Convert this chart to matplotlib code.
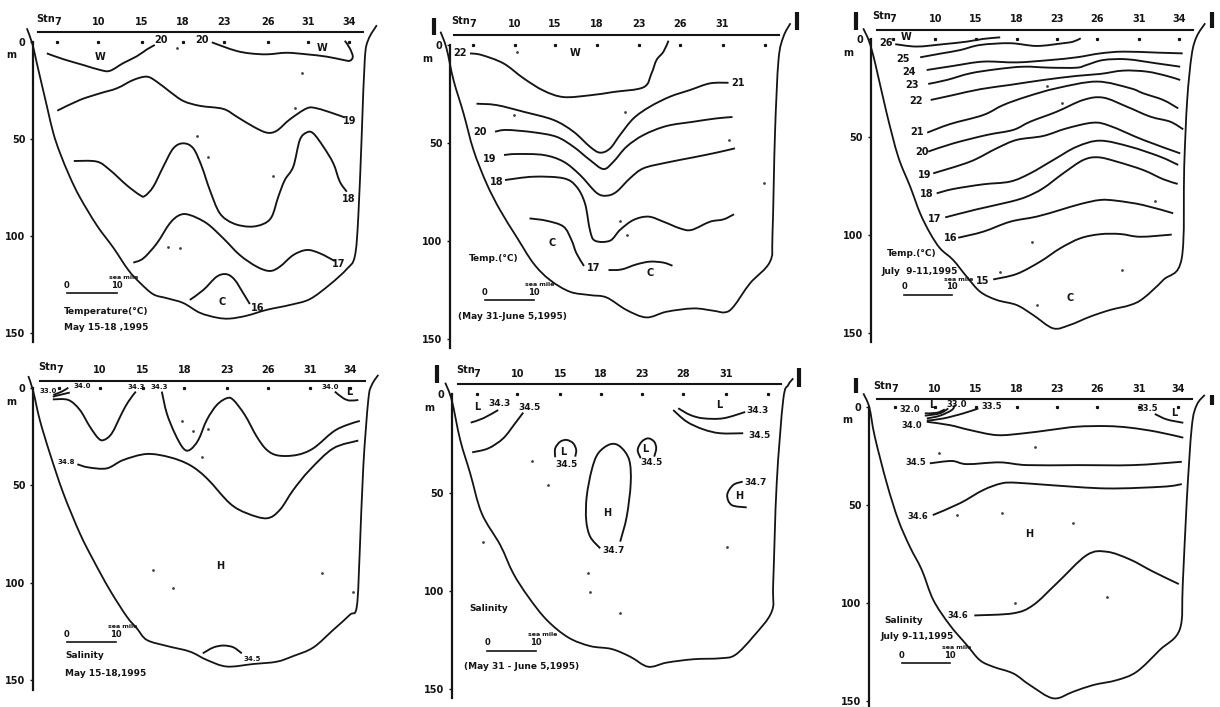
import matplotlib
matplotlib.use("Agg")
import matplotlib.pyplot as plt
from matplotlib.patches import PathPatch
from matplotlib.path import Path

W, H = 1220, 707
INK = "#141414"

# x is sea miles from the depth axis, d is depth in metres
# ---------- May 15-18 temperature
a_stations = [4.8, 13, 21.7, 29.9, 38.1, 46.9, 55, 63.1]
a_names = ["7", "10", "15", "18", "23", "26", "31", "34"]
a_bottom_x = [-1.3, -0.2, 0.7, 2.7, 4, 5.3, 7.3, 9.3, 12.7, 16, 19, 21.3, 24, 26.7, 30, 33.3, 36.7, 39.3, 42.7, 46.7, 51.3, 55.3, 59.3, 62.7, 64.3, 65, 65.7, 66.3, 67, 68.7]
a_bottom_d = [-6.9, 1, 11, 33, 47, 57, 69.5, 80, 94.5, 106, 117.5, 124, 130, 132, 134.5, 139.5, 142, 142.5, 141, 138, 135.5, 132.5, 125, 117, 110.5, 90, 47, 9, -1, -8.5]
a_lines = [
    ([2.7, 6, 10, 13.3, 15.3, 18, 20.7, 22.7, 24.3], [6, 9, 12, 14.5, 15, 11, 7.5, 4, 1.7]),
    ([35.7, 38, 40.7, 43.3, 46.7, 50.7, 54.7, 58.7, 62, 63.3, 63.9, 63.3, 62.3], [0.3, 2.5, 4.8, 6, 6.5, 5.7, 6.5, 7.7, 9.4, 9.8, 7.7, 3.4, -0.5]),
    ([4.8, 9.3, 13.3, 16.7, 20, 22.7, 24.7, 27.3, 30, 33.3, 38, 40.7, 44, 46.7, 48.7, 51.3, 54.7, 56.7, 60, 62.3], [35.5, 30, 26.6, 24, 19.7, 18, 20.6, 25.7, 30.5, 33, 34.6, 38.6, 43.7, 46.8, 45.8, 40, 34.3, 34.3, 36.9, 39]),
    ([8.1, 12.7, 15.3, 18.7, 21.3, 22.3, 24, 26, 28, 30, 32, 33.7, 35.3, 37.3, 40, 43.3, 46, 47.7, 49, 50.3, 52, 53.3, 54.7, 56, 58, 60, 61.3, 62.7], [61.4, 61.7, 66, 73.9, 78.9, 79.4, 74.6, 64.3, 54.9, 52.3, 54.9, 64.3, 76.3, 88.3, 93.5, 95.2, 93.8, 90, 79.8, 71.2, 64.3, 50.6, 46.7, 47.2, 54, 62.6, 72, 77.2]),
    ([20, 22, 24.7, 27.3, 29.3, 31.3, 34.7, 38, 41.3, 44.7, 47.3, 49.3, 52, 54.7, 57.3, 60.3], [113.7, 111.5, 103.8, 93.5, 89.2, 89.2, 93.5, 101.2, 109.8, 115.8, 118, 115.8, 109.8, 107.2, 108.9, 112.9]),
    ([31.3, 34, 36.7, 38.7, 40.3, 42, 43.3], [132.9, 127.8, 120.9, 119.7, 122.6, 129.5, 135]),
]
a_labels = [(13.3, 7.7, "W"), (57.7, 3, "W"), (37.7, 134, "C"), (25.5, -1, "20"), (33.7, -1, "20"), (63.3, 40.7, "19"), (63, 81, "18"), (61.1, 114.4, "17"), (44.8, 137, "16")]
a_notes = [(6.1, 139, "Temperature(°C)"), (6.2, 147, "May 15-18 ,1995")]
a_specks = [(28.7, 3.4), (35.3, -6.9), (53.7, 16), (52.3, 34), (47.9, 69), (35, 59.5), (27, 105.5), (29.3, 106.4), (32.7, 48.5)]

# ---------- May 31-June 5 temperature
b_stations = [4.5, 12.9, 21, 29.3, 37.7, 45.9, 54.5, 63]
b_names = ["7", "10", "15", "18", "23", "26", "31", ""]
b_bottom_x = [-1.9, -0.7, 0.7, 2.7, 4.7, 7.3, 10, 13.3, 16.7, 20, 24, 28, 31.3, 35.3, 39.3, 43.3, 48.7, 52.7, 55, 56.7, 60, 64, 64.5, 65, 65.7, 66.7, 68.1]
b_bottom_d = [-6.8, 1.7, 17.9, 34.9, 53.7, 70.7, 84.3, 98, 111.6, 120.1, 126.1, 127.8, 129, 135.4, 139.2, 136.3, 134.6, 135.8, 136.6, 133.7, 121.8, 110.7, 96.3, 45.1, 7.7, -4.3, -11.1]
b_lines = [
    ([4, 6.3, 10.7, 14.7, 18.7, 22.7, 28, 32.7, 38.7, 40.3, 41.3, 42.7, 43.7], [4.3, 5.1, 9.4, 17, 23.3, 26.6, 25.7, 24, 21.6, 14.5, 7.7, 3.4, -2.2]),
    ([5.3, 9.3, 14.7, 20.7, 24.7, 28, 30, 32, 34, 36.7, 40, 44, 48, 52, 55.7], [30, 30.7, 34.1, 38.3, 44.3, 52, 55, 52.9, 46, 37.5, 31.5, 26.4, 23, 19.6, 19.3]),
    ([9, 11.3, 16.7, 21.3, 24.7, 28, 30.7, 32.7, 35.3, 38.7, 43.3, 48.7, 53.3, 56.5], [44.3, 43.4, 44.6, 46.9, 52, 58.8, 63.4, 59.6, 52, 46, 41.4, 39.2, 37.5, 36.8]),
    ([10.8, 13.3, 18.7, 22.7, 26, 29.3, 31.3, 33.3, 36, 38.7, 43.3, 48.7, 53.3, 57], [56.2, 55.7, 56.2, 59.6, 66.4, 75.5, 77, 75, 68.1, 63, 60.1, 57.4, 55, 52.8]),
    ([11, 16.7, 22.7, 25.3, 27, 28, 29, 32, 34, 36.7, 39.7, 42.7, 46, 48.3, 52, 54.7, 56.8], [69, 67.3, 68.1, 72.4, 81, 94.7, 100, 100, 94.5, 89.4, 87.7, 90.3, 93.7, 94.5, 90.3, 89.1, 86.5]),
    ([15.9, 19.3, 22.7, 24.3, 25.3, 26.8], [88.6, 89.8, 92.8, 99.7, 106.5, 112.9]),
    ([31.7, 34.3, 37.3, 40, 42.7, 44.5], [115, 114.7, 112.1, 110.7, 111.2, 112.8]),
]
b_labels = [(25.1, 4.3, "W"), (2, 4.3, "22"), (57.5, 19.6, "21"), (6, 44.6, "20"), (7.9, 58.3, "19"), (9.3, 70.2, "18"), (20.5, 101.4, "C"), (28.8, 114, "17"), (40, 116.7, "C")]
b_notes = [(3.7, 109, "Temp.(°C)"), (1.5, 138.5, "(May 31-June 5,1995)")]
b_specks = [(13.3, 3.4), (34, 90), (35.3, 97), (62.7, 70.7), (55.7, 48.6), (12.7, 35.8), (35, 34)]

# ---------- July 9-11 temperature
c_stations = [4.5, 12.9, 21, 29.2, 37.2, 45.3, 53.7, 61.7]
c_names = ["7", "10", "15", "18", "23", "26", "31", "34"]
c_bottom_x = [-1.5, -0.3, 0.9, 3.2, 5.5, 7.9, 9.9, 11.9, 13.9, 16.5, 19.2, 21.9, 25.2, 29.2, 32.5, 36.5, 39.8, 43.9, 47.9, 51.9, 54.5, 58.5, 62.2, 62.7, 63.3, 64.2, 65.2, 66.9]
c_bottom_d = [-5.6, 1.2, 12.3, 37.8, 60, 75.3, 89, 99.2, 106.9, 112.8, 121.3, 129, 133.2, 135.8, 140.9, 147.7, 146, 141.7, 138.3, 135.8, 132.4, 123, 112, 65.1, 31, 8, -1.4, -8.2]
c_lines = [
    ([4.9, 9.2, 14.5, 19.2, 22.5, 25.9], [2.5, 3.7, 2.5, 1.2, -0.2, -1]),
    ([9.9, 14.2, 17.9, 21.9, 27.9, 33.2, 38.5, 40.5, 42], [9.2, 7.2, 5.5, 2.9, 2, 3.4, 2, 1.2, -0.5]),
    ([11.2, 16.5, 22.5, 29.2, 35.9, 41.2, 45.9, 50.5, 57.2, 62.4], [15.7, 13.6, 11.4, 11.8, 10.6, 9.2, 7.2, 6.3, 6.8, 7.2]),
    ([11.5, 15.2, 19.9, 25.2, 30.5, 35.9, 41.2, 43.2, 46.5, 51.2, 57.2, 61.9], [22.8, 20.8, 17.4, 15.3, 14, 14.5, 14.5, 13.1, 10.6, 10.2, 12.3, 14]),
    ([12, 16.5, 21.9, 27.9, 34.5, 41.2, 45.9, 50.5, 55.2, 59.2, 61.9], [31, 28.5, 25.5, 23.3, 20.8, 18.7, 17.7, 16, 16.5, 18.7, 20.8]),
    ([11.3, 15.9, 22.5, 26.5, 31.2, 37.2, 45.2, 51.9, 54.5, 58.5, 61.5], [47.7, 43.3, 38.7, 33.6, 29.3, 25, 21.6, 25, 27.6, 31, 35.3]),
    ([11.5, 16.5, 23.2, 28.5, 31.9, 37.2, 42.5, 46.5, 51.2, 55.9, 59.9, 62.5], [57.4, 53.2, 48.9, 46.3, 42.1, 37, 31, 29.8, 34.4, 39.5, 42.1, 46]),
    ([12.5, 19.9, 25.2, 29.2, 34.5, 39.2, 44.5, 47.9, 54.5, 61.9], [68.5, 62.5, 55.7, 51.4, 49.4, 45.5, 42.6, 44.3, 51.4, 58.3]),
    ([13.2, 16.5, 22.5, 27.9, 31.9, 36.5, 41.2, 45.9, 51.9, 57.9, 61.5], [78.7, 76.5, 74.1, 72.7, 68.5, 61.7, 54.9, 51.8, 54.9, 60, 64.2]),
    ([14.9, 21.2, 27.9, 31.2, 34.5, 38.5, 42.5, 45.5, 49.2, 54.5, 58.5, 61.4], [91, 86.9, 83, 80.4, 76.1, 68.5, 61.7, 60.3, 62.5, 66.8, 71.5, 73.9]),
    ([17.5, 22.5, 27.9, 33.2, 37.9, 41.9, 45.9, 49.2, 54.5, 60.5], [101.4, 98.3, 93.2, 90.6, 87.2, 84.2, 82.1, 82.5, 84.7, 88.9]),
    ([24.5, 29.2, 33.9, 37.9, 41.9, 45.9, 49.9, 53.9, 60.2], [122.7, 119.9, 113.6, 106.8, 101.7, 99.6, 99.5, 100.9, 99.8]),
]
c_labels = [(7.1, -1, "W"), (3.1, 2, "26"), (6.4, 10.2, "25"), (7.7, 16.9, "24"), (8.2, 23.3, "23"), (9.1, 31.5, "22"), (9.3, 47.5, "21"), (10.2, 57.4, "20"), (10.7, 69.3, "19"), (11.3, 79, "18"), (12.7, 91.8, "17"), (15.9, 101.7, "16"), (22.4, 123.5, "15"), (39.9, 132, "C")]
c_notes = [(3.3, 109.4, "Temp.(°C)"), (2.2, 118.7, "July  9-11,1995")]
c_specks = [(38.2, 32.4), (35.2, 23.9), (56.9, 82.6), (50.2, 117.9), (32.2, 103.4), (25.9, 118.7), (33.2, 135.8)]

# ---------- May 15-18 salinity
d_stations = [5.2, 13.3, 21.9, 30.2, 38.8, 47, 55.3, 63.3]
d_names = ["7", "10", "15", "18", "23", "26", "31", "34"]
d_bottom_x = [-1, 0, 1.3, 3.3, 6, 9.3, 12, 15.3, 18.7, 20.7, 22.7, 26.7, 31.3, 34.7, 38.7, 44, 48.7, 52, 56, 60, 63.3, 64.7, 65.3, 66, 67, 67.7, 69]
d_bottom_d = [-6.3, 1.7, 16.3, 33.4, 54, 74.6, 88.4, 103.8, 117.5, 123.5, 129.5, 132.6, 135.5, 139.8, 143.2, 141.9, 140.7, 137.8, 133.4, 124.3, 116.6, 112.3, 83.2, 40.3, 6, -1.7, -6.9]
d_lines = [
    ([4, 5.7, 7], [3.4, 1.7, -0.3]),
    ([3.9, 5.3, 7.3], [4.3, 3.4, 2.2]),
    ([3.9, 7, 9.3, 11.3, 13, 14.1, 15.7, 17.7, 19, 20.5], [5.7, 6, 11.1, 19.7, 25.7, 26.6, 23.2, 12.9, 6.9, 1.7]),
    ([25.7, 26.7, 28.3, 30, 31.3, 33, 34.7, 36.7, 38.7, 40, 42.3, 44.7, 46.7, 49, 52.7, 56, 60, 62.7, 65.3], [1.7, 12.9, 23.2, 30.9, 31.7, 26.6, 16.3, 8.6, 5.1, 6, 13.7, 24.9, 31.7, 34.6, 34.3, 30.9, 22.3, 18.9, 16.8]),
    ([8.8, 11, 14.7, 18, 22.7, 27.3, 31.3, 34.7, 39.3, 42.7, 46.7, 49.3, 52, 55.3, 60, 65], [39.1, 40.7, 41.2, 36.9, 33.8, 35.5, 39.5, 46.3, 59.2, 64.3, 66.9, 62.6, 52.3, 42, 30.9, 26.9]),
    ([60.3, 62, 63.3, 65], [1.7, 5.1, 6.3, 6]),
    ([33.9, 36, 38, 40, 41.7], [136.4, 133.4, 132.4, 133.3, 136.4]),
]
d_labels = [(3, 1.4, "33.0"), (9.8, -1.4, "34.0"), (20.5, -0.9, "34.3"), (25.2, -0.9, "34.3"), (59.3, -0.5, "34.0"), (63.2, 2, "L"), (6.5, 37.7, "34.8"), (37.3, 91.3, "H"), (43.7, 139.3, "34.5")]
d_notes = [(6.5, 137.7, "Salinity"), (6.3, 147, "May 15-18,1995")]
d_specks = [(32, 22), (35, 21), (33.7, 35.5), (29.7, 16.6), (24, 93.5), (28, 102.9), (57.7, 94.9), (64, 104.6)]

# ---------- May 31-June 5 salinity
e_stations = [5.1, 13.1, 21.7, 29.9, 38.1, 46.3, 54.8, 63.3]
e_names = ["7", "10", "15", "18", "23", "28", "31", ""]
e_bottom_x = [-1.3, 0, 1.7, 3.7, 6, 9.7, 12.3, 15.3, 19, 23.3, 27.7, 32, 35.7, 39.3, 43, 48.3, 53.7, 56.7, 60.3, 64, 64.3, 65, 66.3, 67.3, 68.3]
e_bottom_d = [-5.9, 2.9, 23.2, 40.2, 60.5, 76.6, 91, 102.9, 114.7, 123.6, 128, 129.5, 133.4, 138.5, 136.4, 134.7, 134.2, 132.5, 123.2, 110.5, 96.1, 45.3, 2.9, -4.7, -8.1]
e_lines = [
    ([3.8, 6.3, 9.3], [14.4, 12.2, 8]),
    ([4.1, 7.3, 10.3, 12.7, 14.3], [29.5, 27.5, 22.4, 14.7, 9.3]),
    ([20.7, 20.7, 21.7, 23, 24.3, 24.9, 24.7], [32, 27.5, 24.1, 23.2, 24.9, 28.3, 31.7]),
    ([37.8, 37.2, 38, 39.3, 40.5, 40.9, 40.5], [32.5, 28.3, 24.1, 22.4, 24.1, 27.5, 31.7]),
    ([29.7, 27.7, 26.9, 27, 28, 29.3, 31.7, 33.7, 35.5, 35.8, 35, 33.7], [78.3, 72.4, 63.9, 52, 38.5, 30, 25.4, 26.6, 33.4, 45.3, 62.2, 74.9]),
    ([45.3, 47.7, 50.3, 54.3, 58.7], [7.1, 10.5, 12.2, 12.2, 9]),
    ([44.3, 47, 50.3, 53.7, 58.3], [8, 13.9, 17.8, 19.8, 19.8]),
    ([58.2, 56.3, 55.1, 56, 59], [44.4, 46.1, 51.2, 56.3, 57.5]),
]
e_labels = [(5.1, 6.6, "L"), (9.5, 4.6, "34.3"), (15.5, 6.6, "34.5"), (22.3, 29.2, "L"), (22.9, 35.9, "34.5"), (31.1, 60.2, "H"), (32.3, 79.2, "34.7"), (38.8, 28, "L"), (40, 34.6, "34.5"), (53.5, 5.4, "L"), (61.2, 8, "34.3"), (61.5, 20.7, "34.5"), (60.7, 44.9, "34.7"), (57.5, 51.5, "H")]
e_notes = [(3.5, 108.8, "Salinity"), (2.5, 138.5, "(May 31 - June 5,1995)")]
e_specks = [(6.3, 74.9), (16, 33.7), (19.3, 46.1), (27.3, 90.7), (27.7, 100.3), (55, 77.5), (33.7, 111.4)]

# ---------- July 9-11 salinity
f_stations = [5.1, 13.1, 21.3, 29.5, 37.5, 45.6, 53.9, 61.7]
f_names = ["7", "10", "15", "18", "23", "26", "31", "34"]
f_bottom_x = [-1.2, 0, 1.1, 3.5, 5.8, 8.1, 10.5, 12.8, 16.1, 19.5, 22.1, 24.8, 28.8, 32.1, 36.8, 40.8, 44.8, 49.5, 53.5, 58.1, 62.1, 62.7, 63.5, 64.5, 65.5, 67.1]
f_bottom_d = [-6.8, 0.3, 15.3, 39.1, 57.8, 71.4, 83.3, 98.6, 111.4, 121.6, 129.3, 132.7, 136.1, 142, 148.8, 145.4, 142, 139.5, 135.2, 124.1, 113.6, 90.1, 47.6, 10.2, -0.9, -6]
f_lines = [
    ([11.5, 16.1, 20.1, 25.5, 30.8, 36.1, 41.5, 47.5, 52.1, 57.5, 62.8], [7.7, 9.4, 11.9, 14.5, 13.6, 11.9, 10.2, 9.9, 10.7, 12.8, 15.8]),
    ([11.5, 14.8, 18.8, 21.8], [7.1, 6, 3.4, 0.9]),
    ([11.5, 14.1, 16.5, 17.1], [6, 4.6, 1.7, -0.9]),
    ([11.1, 13.5, 15.1], [3.4, 3.1, 1.4]),
    ([11.1, 14.1, 15.8], [4.6, 3.4, 0.9]),
    ([57.1, 59.5, 62.8], [3.7, 6.5, 8.2]),
    ([12.1, 16.5, 19.5, 26.1, 31.5, 41.5, 52.8, 62.5], [28.9, 27.7, 29.3, 28.4, 29.8, 29.8, 29.8, 28.1]),
    ([12.7, 18.1, 22.8, 26.5, 29.5, 36.1, 47.5, 58.8, 62.5], [55.3, 49.3, 42.5, 39.1, 38.8, 40, 41.7, 40.8, 39.5]),
    ([21, 28.8, 32.8, 37.5, 43.5, 47.5, 52.1, 56.8, 61.9], [106.5, 105.4, 101.2, 90.1, 75.7, 74, 77.9, 84.2, 90.5]),
]
f_labels = [(8.1, 1.4, "32.0"), (12.5, -0.9, "L"), (17.5, -0.9, "33.0"), (24.5, -0.3, "33.5"), (55.7, 0.9, "33.5"), (61, 3, "L"), (8.5, 9.7, "34.0"), (9.3, 28.4, "34.5"), (9.8, 55.8, "34.6"), (31.9, 65, "H"), (17.8, 106.6, "34.6")]
f_notes = [(3, 109.2, "Salinity"), (2.3, 117.3, "July 9-11,1995")]
f_specks = [(14, 23.8), (17.5, 55.3), (26.5, 54.4), (40.8, 59.2), (47.5, 97.3), (29.1, 100.3), (33.1, 20.4)]

depth_ticks = [0, 50, 100, 150]
# left px, px of depth 0, px per metre, depth of station line, axis end, station line span,
# scale bar (start, end, depth), edge marks (x, top, bottom), then data, then label size
panels = [
    (33.3, 41.7, 1.943, -4.8, 154.4, (1, 65.9), (6.7, 16.7, 129.5), [], a_stations, a_names, a_bottom_x, a_bottom_d, a_lines, a_labels, a_notes, a_specks, 6.5),
    (450, 45, 1.957, -5.1, 155, (0.7, 65.7), (7, 16.7, 130.3), [(-3.3, -14, -5), (69.4, -17, -7.5)], b_stations, b_names, b_bottom_x, b_bottom_d, b_lines, b_labels, b_notes, b_specks, 6.5),
    (870.7, 39.3, 1.957, -4.8, 154.9, (1.2, 64.4), (6.7, 16.2, 130.5), [(-3, -14, -5), (68.2, -14, -5.7)], c_stations, c_names, c_bottom_x, c_bottom_d, c_lines, c_labels, c_notes, c_specks, 6.5),
    (33.3, 388.3, 1.943, -3.8, 155.2, (1.3, 66.3), (6.7, 16.5, 130.7), [], d_stations, d_names, d_bottom_x, d_bottom_d, d_lines, d_labels, d_notes, d_specks, 5),
    (451.7, 394.3, 1.967, -5.1, 154.6, (1.3, 65.8), (7.1, 16.9, 130.3), [(-3, -14.9, -5.6), (69.5, -13.2, -3.9)], e_stations, e_names, e_bottom_x, e_bottom_d, e_lines, e_labels, e_notes, e_specks, 6.5),
    (869.3, 406.7, 1.96, -3.7, 153, (1.5, 64.5), (6.5, 16.1, 131), [(-2.7, -14.5, -6.8), (68.5, -6, -0.9)], f_stations, f_names, f_bottom_x, f_bottom_d, f_lines, f_labels, f_notes, f_specks, 6),
]

fig = plt.figure(figsize=(W / 100, H / 100), dpi=100)
plt.rcParams["font.family"] = "DejaVu Sans"


def curve(xs, ds):
    # hand drawn contours: bezier through the read points, so no corners show
    n = len(xs)
    verts = [(xs[0], ds[0])]
    codes = [Path.MOVETO]
    for i in range(n - 1):
        i0 = max(i - 1, 0)
        i3 = min(i + 2, n - 1)
        verts.append((xs[i] + (xs[i + 1] - xs[i0]) / 6, ds[i] + (ds[i + 1] - ds[i0]) / 6))
        verts.append((xs[i + 1] - (xs[i3] - xs[i]) / 6, ds[i + 1] - (ds[i3] - ds[i]) / 6))
        verts.append((xs[i + 1], ds[i + 1]))
        codes += [Path.CURVE4, Path.CURVE4, Path.CURVE4]
    return Path(verts, codes)


def draw_panel(left, y0, k, top_d, end_d, span, bar, marks, stations, names, bottom_x, bottom_d, lines, labels, notes, specks, label_size):
    top_px = y0 + top_d * k
    bot_px = y0 + end_d * k
    ax = fig.add_axes([left / W, 1 - bot_px / H, 350 / W, (bot_px - top_px) / H])
    ax.set_xlim(0, 70)
    ax.set_ylim(end_d, top_d)
    ax.patch.set_alpha(0)

    ax.spines["right"].set_visible(False)
    ax.spines["bottom"].set_visible(False)
    ax.spines["left"].set_bounds(0, end_d)
    ax.spines["left"].set_linewidth(1.6)
    ax.spines["top"].set_bounds(span[0], span[1])
    ax.spines["top"].set_linewidth(1.5)
    ax.spines["left"].set_color(INK)
    ax.spines["top"].set_color(INK)

    ax.xaxis.tick_top()
    ax.set_xticks(stations)
    ax.set_xticklabels(names, fontsize=7, fontweight="bold", color=INK)
    ax.tick_params(axis="x", length=0, pad=4)
    ax.set_yticks(depth_ticks)
    ax.set_yticklabels([str(t) for t in depth_ticks], fontsize=7, fontweight="bold", color=INK)
    ax.tick_params(axis="y", length=2.5, width=1, direction="out", pad=3, color=INK)

    ax.text(-4.5, 7, "m", fontsize=7, fontweight="bold", ha="center", va="center", color=INK, clip_on=False)
    ax.text(stations[0] - 2.4, top_d - 7, "Stn", fontsize=7, fontweight="bold", ha="center", va="center", color=INK)

    ax.plot(stations, [0] * len(stations), ls="none", marker="s", ms=1.3, color=INK)
    ax.plot([s[0] for s in specks], [s[1] for s in specks], ls="none", marker="o", ms=1, color="#444444")
    ax.add_patch(PathPatch(curve(bottom_x, bottom_d), fc="none", ec=INK, lw=1.3, clip_on=False))
    for xs, ds in lines:
        ax.add_patch(PathPatch(curve(xs, ds), fc="none", ec=INK, lw=1.35, clip_on=False))
    for x, d, s in labels:
        ax.text(x, d, s, fontsize=label_size if len(s) > 2 else 7, fontweight="bold", ha="center", va="center", color=INK, clip_on=False)
    for x, d, s in notes:
        ax.text(x, d, s, fontsize=6.5, fontweight="bold", ha="left", va="center", color=INK)

    # scale bar
    ax.plot([bar[0], bar[1]], [bar[2], bar[2]], color=INK, lw=1.2)
    ax.text(bar[0], bar[2] - 4, "0", fontsize=6, fontweight="bold", ha="center", va="center", color=INK)
    ax.text(bar[1], bar[2] - 4, "10", fontsize=6, fontweight="bold", ha="center", va="center", color=INK)
    ax.text(bar[1] + 1.3, bar[2] - 8, "sea mile", fontsize=4.5, fontweight="bold", ha="center", va="center", color=INK)

    for x, d1, d2 in marks:
        ax.plot([x, x], [d1, d2], color=INK, lw=3, clip_on=False, solid_capstyle="butt")


for p in panels:
    draw_panel(*p)

fig.savefig("out.png", dpi=100)
